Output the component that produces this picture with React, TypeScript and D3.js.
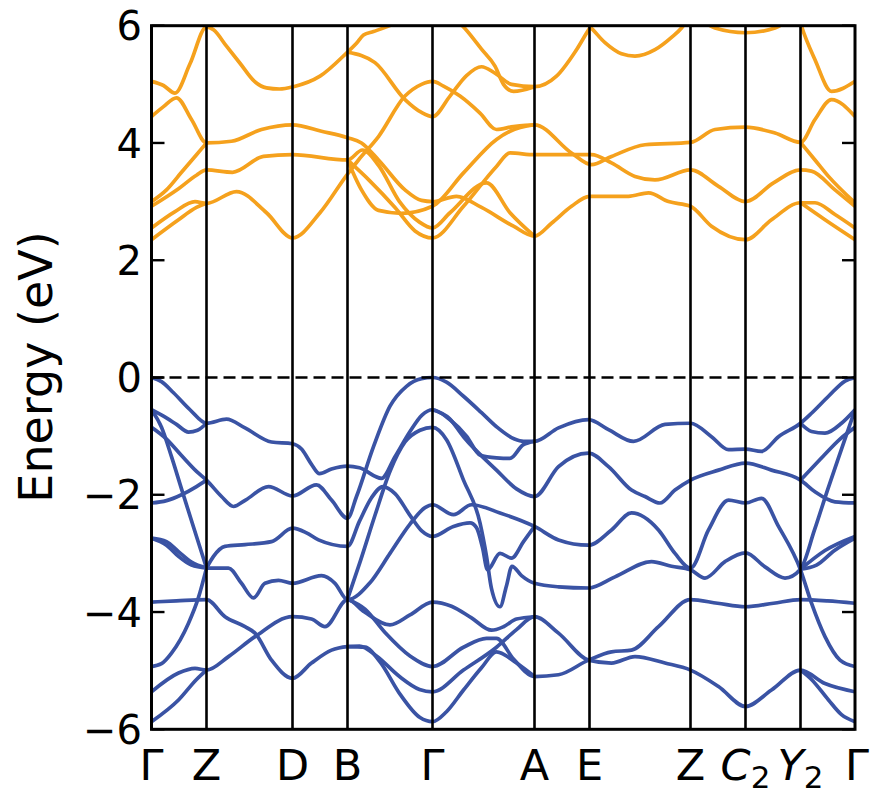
import React from 'react';
import * as d3 from 'd3';

// high-symmetry k positions (path length units) and labels
const kPoints = [0, 55, 141, 196, 281, 383, 438, 539, 594, 649, 703.5];
const kLabels = ['Γ', 'Z', 'D', 'B', 'Γ', 'A', 'E', 'Z', 'C_2', 'Y_2', 'Γ'];
const yTicks = [-6, -4, -2, 0, 2, 4, 6];

// valence bands: [k, E(eV)]
const valenceBands: number[][][] = [
  [[0,0],[10,-0.07],[22,-0.26],[38.5,-0.55],[55,-0.78],[75,-0.71],[93.5,-0.86],[120,-1.10],[141,-1.13],[150,-1.22],[160,-1.48],[168,-1.64],[180,-1.56],[196,-1.51],[208,-1.54],[230,-1.72],[243.5,-1.35],[258.5,-0.92],[270.5,-0.64],[281,-0.55],[298.5,-0.72],[315,-1.0],[328.5,-1.32],[345,-1.37],[358.5,-1.38],[371.5,-1.15],[383,-1.09]],
  [[0,-0.55],[12,-0.66],[25,-0.8],[37,-0.93],[46,-0.9],[55,-0.78]],
  [[0,-0.85],[15,-1.05],[30,-1.33],[45,-1.6],[55,-1.75],[70,-2.03],[82,-2.2],[94,-2.09],[117,-1.86],[141,-2.02],[165,-1.83],[180,-2.09],[196,-2.40],[205,-2.03],[222,-1.18],[238.5,-0.49],[255,-0.15],[270,-0.02],[281,0],[295,-0.08],[312,-0.32],[330,-0.6],[345,-0.84],[363,-1.05],[372,-1.09],[383,-1.09],[407,-0.86],[437,-0.72],[457,-0.89],[482,-1.09],[513.5,-0.80],[539,-0.78],[560,-1.01],[577,-1.23],[594,-1.22],[610,-1.26],[627,-1.01],[649,-0.78],[660,-0.61],[677,-0.32],[693.5,-0.06],[703.5,0]],
  [[0,-0.55],[10,-0.85],[20,-1.35],[30,-1.9],[42,-2.55],[55,-3.25]],
  [[0,-2.14],[15,-2.1],[30,-2.0],[45,-1.86],[55,-1.75]],
  [[0,-2.74],[15,-2.8],[27,-2.97],[40,-3.15],[55,-3.25]],
  [[0,-2.74],[15,-2.86],[27,-3.05],[40,-3.2],[55,-3.25]],
  [[0,-3.83],[25,-3.81],[55,-3.79],[73.5,-4.08],[93.5,-4.25],[103.5,-4.36],[120,-4.82],[141,-5.13],[160,-4.87],[180,-4.65],[196,-4.59],[208,-4.58],[225,-4.75],[248,-5.1],[268,-5.32],[281,-5.36],[312,-4.99],[345,-4.6],[365,-4.3],[383,-4.08],[407,-4.36],[437,-4.82],[460,-4.87],[483.5,-4.76],[513.5,-4.87],[539,-4.99],[567,-5.27],[594,-5.61],[620,-5.33],[649,-4.99],[673.5,-5.22],[703.5,-5.36]],
  [[0,-4.93],[10,-4.88],[20,-4.7],[37,-4.19],[47,-3.75],[55,-3.25]],
  [[0,-5.36],[27,-5.04],[43.5,-4.96],[55,-4.99],[77,-4.76],[103.5,-4.42],[141,-4.08],[160,-4.12],[173.5,-4.25],[196,-3.79],[213,-4.0],[238.5,-4.22],[258.5,-4.05],[281,-3.83],[300,-3.9],[320,-4.1],[340,-4.31],[352,-4.25],[365,-4.12],[383,-4.08]],
  [[0,-5.87],[27,-5.5],[45,-5.15],[55,-4.99]],
  [[55,-3.25],[62,-3.05],[73.5,-2.88],[93.5,-2.85],[120,-2.80],[141,-2.57],[155,-2.65],[167,-2.77],[196,-2.88],[208,-2.45],[220,-2.05],[231.5,-1.86],[243.5,-1.98],[258.5,-2.35],[270.5,-2.62],[281,-2.71],[302,-2.54],[318.5,-2.48],[325,-2.56],[331,-2.9],[336,-3.28],[348.5,-3.0],[360,-3.08],[372,-2.8],[383,-2.54]],
  [[55,-3.25],[77,-3.25],[90,-3.51],[102,-3.76],[113.5,-3.51],[127,-3.46],[141,-3.51],[170,-3.38],[183.5,-3.51],[196,-3.79],[218.5,-3.5],[238.5,-3.0],[258.5,-2.5],[273.5,-2.22],[281,-2.17],[302,-2.34],[320,-2.17],[348.5,-2.31],[383,-2.54],[407,-2.77],[437,-2.86],[460,-2.60],[480,-2.31],[507,-2.60],[523.5,-3.0],[539,-3.25],[557,-2.60],[577,-2.09],[594,-2.14],[610,-2.06],[627,-2.54],[649,-3.28],[660,-3.85],[673.5,-4.42],[688.5,-4.82],[703.5,-4.93]],
  [[196,-3.78],[208.5,-3.15],[223.5,-2.35],[238.5,-1.6],[253.5,-1.1],[268.5,-0.9],[281,-0.85],[295,-1.06],[312,-1.75],[328.5,-2.48],[335,-3.05],[340,-3.6],[348.5,-3.91],[355,-3.55],[360.5,-3.22],[370,-3.38],[383,-3.51],[407,-3.57],[437,-3.59],[463.5,-3.4],[500,-3.14],[520,-3.22],[539,-3.28],[553.5,-3.42],[573.5,-3.14],[594,-2.99],[613.5,-3.23],[633.5,-3.42],[649,-3.27],[663,-2.6],[676,-1.92],[690,-1.22],[703.5,-0.55]],
  [[196,-3.78],[213.5,-3.95],[233.5,-4.35],[258.5,-4.75],[281,-4.93],[312,-4.6],[335,-4.45],[345,-4.45],[362,-4.8],[383,-5.10],[407,-5.07],[437,-4.82],[460,-4.68],[480,-4.65],[507,-4.25],[539,-3.79],[566,-3.85],[594,-3.91],[622,-3.85],[649,-3.79],[676,-3.81],[703.5,-3.85]],
  [[196,-4.59],[213.5,-4.6],[228.5,-4.85],[248.5,-5.4],[268.5,-5.8],[281,-5.87],[295,-5.7],[312,-5.33],[330,-4.95],[345,-4.68],[365,-4.87],[383,-5.10]],
  [[281,-0.55],[298,-0.7],[312,-1.01],[345,-1.58],[365,-1.9],[383,-2.03],[407,-1.52],[437,-1.29],[457,-1.52],[480,-1.92],[493.5,-2.03],[508.5,-2.14],[523.5,-1.92],[539,-1.75],[567,-1.58],[594,-1.46],[620,-1.58],[649,-1.75],[663.5,-1.95],[683.5,-2.12],[703.5,-2.14]],
  [[649,-0.78],[660,-0.92],[673.5,-0.95],[690,-0.78],[703.5,-0.55]],
  [[649,-1.75],[668.5,-1.4],[688.5,-1.05],[703.5,-0.85]],
  [[649,-3.27],[673.5,-2.95],[703.5,-2.71]],
  [[649,-3.27],[665,-3.2],[683,-2.95],[703.5,-2.74]],
  [[649,-4.99],[660,-5.15],[677,-5.5],[690,-5.75],[703.5,-5.87]],
];

// conduction bands: [k, E(eV)]
const conductionBands: number[][][] = [
  [[0,5.05],[12,4.98],[23.5,4.85],[38.5,5.35],[55,5.98],[62,5.93],[75,5.65],[88.5,5.36],[103,5.05],[115,4.94],[128,4.92],[142,4.96],[168.5,5.14],[196,5.55],[205,5.7],[212,5.84],[222,5.9],[235,5.98],[245,6.05]],
  [[0,4.45],[12,4.62],[25,4.77],[40,4.4],[55,4.0],[80,4.03],[110,4.23],[141,4.31],[170,4.2],[196,4.09],[210,4.0],[227,3.71],[253.5,3.20],[270,3.02],[281,3.0],[305,3.09],[330,2.9],[362,2.58],[383,2.41],[400,2.63],[420,2.92],[438,3.09],[477,3.09],[497,3.15],[517,3.0],[539,2.92],[560,2.58],[594,2.35],[620,2.69],[649,2.98],[663.5,2.98],[683.5,2.78],[703.5,2.55]],
  [[0,3.0],[15,3.2],[30,3.5],[45,3.8],[55,4.0]],
  [[0,2.92],[27,3.22],[45,3.45],[55,3.54],[81,3.50],[112,3.77],[141,3.80],[196,3.71],[211,3.88],[227,3.62],[248,3.0],[268,2.65],[281,2.55],[298.5,2.81],[335,3.32],[358.5,2.81],[383,2.41]],
  [[0,2.55],[23.5,2.83],[43.5,3.0],[55,2.97],[85,3.17],[115,2.81],[141,2.38],[168.5,2.81],[196,3.47],[207,3.71],[227,4.11],[253.5,4.80],[270,5.0],[281,5.05],[292,4.97],[308.5,4.80],[328.5,4.51],[345,4.23],[362,4.28],[383,4.31],[420,3.83],[440,3.63],[460,3.77],[493.5,3.97],[539,4.01],[563.5,4.23],[594,4.27],[623.5,4.17],[649,4.01],[663.5,4.40],[680,4.74],[703.5,4.45]],
  [[0,2.35],[27,2.69],[45,2.9],[55,2.97]],
  [[196,5.55],[223.5,5.37],[253.5,4.74],[270,4.52],[281,4.45],[298.5,4.8],[315,5.15],[330,5.3],[343.5,5.19],[360,5.0],[383,4.96],[405,5.14],[425,5.59],[438,5.95],[445,6.1]],
  [[430,6.1],[438,5.99],[453.5,5.71],[470,5.52],[483.5,5.48],[503.5,5.59],[520,5.8],[530,5.96],[536,6.1]],
  [[305,6.1],[313,5.96],[330,5.6],[343.5,5.31],[352,5.0],[362,4.88],[383,4.96]],
  [[196,3.71],[210,3.2],[227,2.85],[250,2.8],[281,2.92],[312,3.49],[345,4.06],[358.5,4.20],[383,4.31]],
  [[196,3.71],[218.5,3.35],[243.5,2.9],[263.5,2.5],[281,2.38],[312,2.92],[345,3.60],[358.5,3.83],[383,3.80],[410,3.80],[440,3.80],[460,3.66],[483.5,3.43],[503.5,3.37],[539,3.54],[567,3.26],[594,3.00],[622,3.32],[649,3.54],[660,3.52],[683.5,3.20],[703.5,2.92]],
  [[550,6.1],[563.5,5.96],[594,5.88],[623.5,5.96],[637,6.1]],
  [[648,6.1],[650,5.99],[663.5,5.42],[680,4.88],[703.5,5.05]],
  [[649,4.01],[663.5,3.71],[677,3.43],[703.5,2.98]],
  [[649,2.98],[673.5,2.69],[703.5,2.35]],
];

const valenceColor = '#3a53a4';
const conductionColor = '#f5a11d';

function Label({ text, x, y }: { text: string; x: number; y: number }) {
  const parts = text.split('_');
  if (parts.length === 1) {
    return (
      <text x={x} y={y} textAnchor="middle" fontSize={43} fontFamily="DejaVu Sans">
        {text}
      </text>
    );
  }
  return (
    <text x={x} y={y} textAnchor="middle" fontSize={43} fontFamily="DejaVu Sans">
      <tspan fontStyle="italic">{parts[0]}</tspan>
      <tspan fontSize={31} dy={8}>{parts[1]}</tspan>
    </text>
  );
}

export default function App() {
  const W = 877, H = 794;
  const left = 151.5, right = 855, top = 25.7, bottom = 729.3;
  const x = d3.scaleLinear().domain([0, 703.5]).range([left, right]);
  const y = d3.scaleLinear().domain([-6, 6]).range([bottom, top]);
  const line = d3.line<number[]>()
    .x(d => x(d[0]))
    .y(d => y(d[1]))
    .curve(d3.curveMonotoneX);

  return (
    <svg width={W} height={H} style={{ position: 'absolute', left: 0, top: 0, background: '#fff' }}>
      <defs>
        <clipPath id="plotClip">
          <rect x={left} y={top} width={right - left} height={bottom - top} />
        </clipPath>
      </defs>
      <rect x={0} y={0} width={W} height={H} fill="#fff" />
      <g clipPath="url(#plotClip)">
        {conductionBands.map((b, i) => (
          <path key={'c' + i} d={line(b) || ''} fill="none" stroke={conductionColor} strokeWidth={3.7} strokeLinejoin="round" />
        ))}
        {valenceBands.map((b, i) => (
          <path key={'v' + i} d={line(b) || ''} fill="none" stroke={valenceColor} strokeWidth={3.7} strokeLinejoin="round" />
        ))}
        <line x1={left} x2={right} y1={y(0)} y2={y(0)} stroke="#000" strokeWidth={2.6} strokeDasharray="12,6" />
      </g>
      {kPoints.slice(1, -1).map((k, i) => (
        <line key={'kv' + i} x1={x(k)} x2={x(k)} y1={top} y2={bottom} stroke="#000" strokeWidth={2.6} />
      ))}
      {yTicks.map((t, i) => (
        <g key={'yt' + i}>
          <line x1={left} x2={left + 13} y1={y(t)} y2={y(t)} stroke="#000" strokeWidth={2.4} />
          <line x1={right - 13} x2={right} y1={y(t)} y2={y(t)} stroke="#000" strokeWidth={2.4} />
          <text x={142} y={y(t) + 0.364 * 40} textAnchor="end" fontSize={40} fontFamily="DejaVu Sans">
            {t < 0 ? '\u2212' + Math.abs(t) : String(t)}
          </text>
        </g>
      ))}
      <rect x={left} y={top} width={right - left} height={bottom - top} fill="none" stroke="#000" strokeWidth={3} />
      {kPoints.map((k, i) => (
        <Label key={'kl' + i} text={kLabels[i]} x={x(k) + (i === kPoints.length - 1 ? 2 : 0)} y={780} />
      ))}
      <text transform={`translate(52, 367) rotate(-90)`} textAnchor="middle" fontSize={46} fontFamily="DejaVu Sans">
        Energy (eV)
      </text>
    </svg>
  );
}
